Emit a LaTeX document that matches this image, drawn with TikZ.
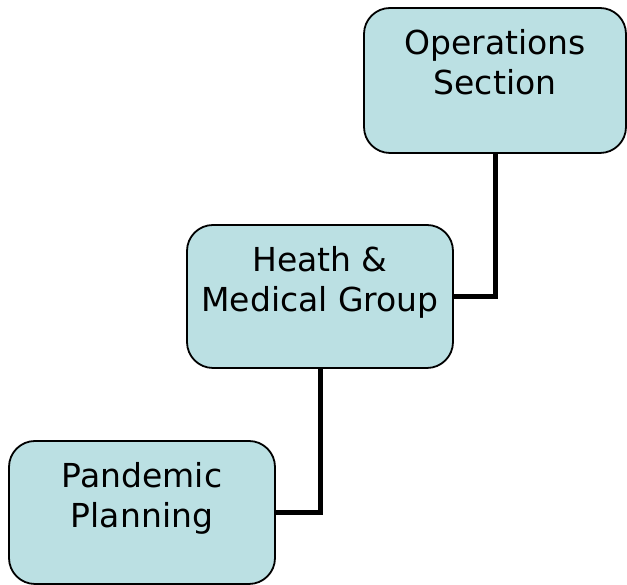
\documentclass[tikz,border=0pt]{standalone}
\usepackage{fontspec}
\setmainfont{DejaVu Sans}
\definecolor{boxfill}{HTML}{BBE0E3}
\begin{document}
\begin{tikzpicture}[x=1pt,y=1pt,
		unitbox/.style={draw=black,line width=1.8pt,fill=boxfill,rounded corners=26pt,minimum width=266pt,minimum height=143pt,inner sep=0pt},
		unittext/.style={anchor=north,inner sep=0pt,yshift=-22pt,align=center,font=\fontsize{33}{40}\selectfont},
		link/.style={line width=5pt}]
					\useasboundingbox (0,0) rectangle (627,585);
					\node[unitbox,minimum width=262pt,minimum height=145pt,label={[unittext]north:Operations\\Section}] (ops) at (495,504.5) {};
					\node[unitbox,label={[unittext]north:Heath \&\\Medical Group}] (health) at (320,288.5) {};
					\node[unitbox,label={[unittext]north:Pandemic\\Planning}] (plan) at (142,72.5) {};
					\draw[link] (ops.south) |- (health.east);
					\draw[link] (health.south) |- (plan.east);
				\end{tikzpicture}
\end{document}
